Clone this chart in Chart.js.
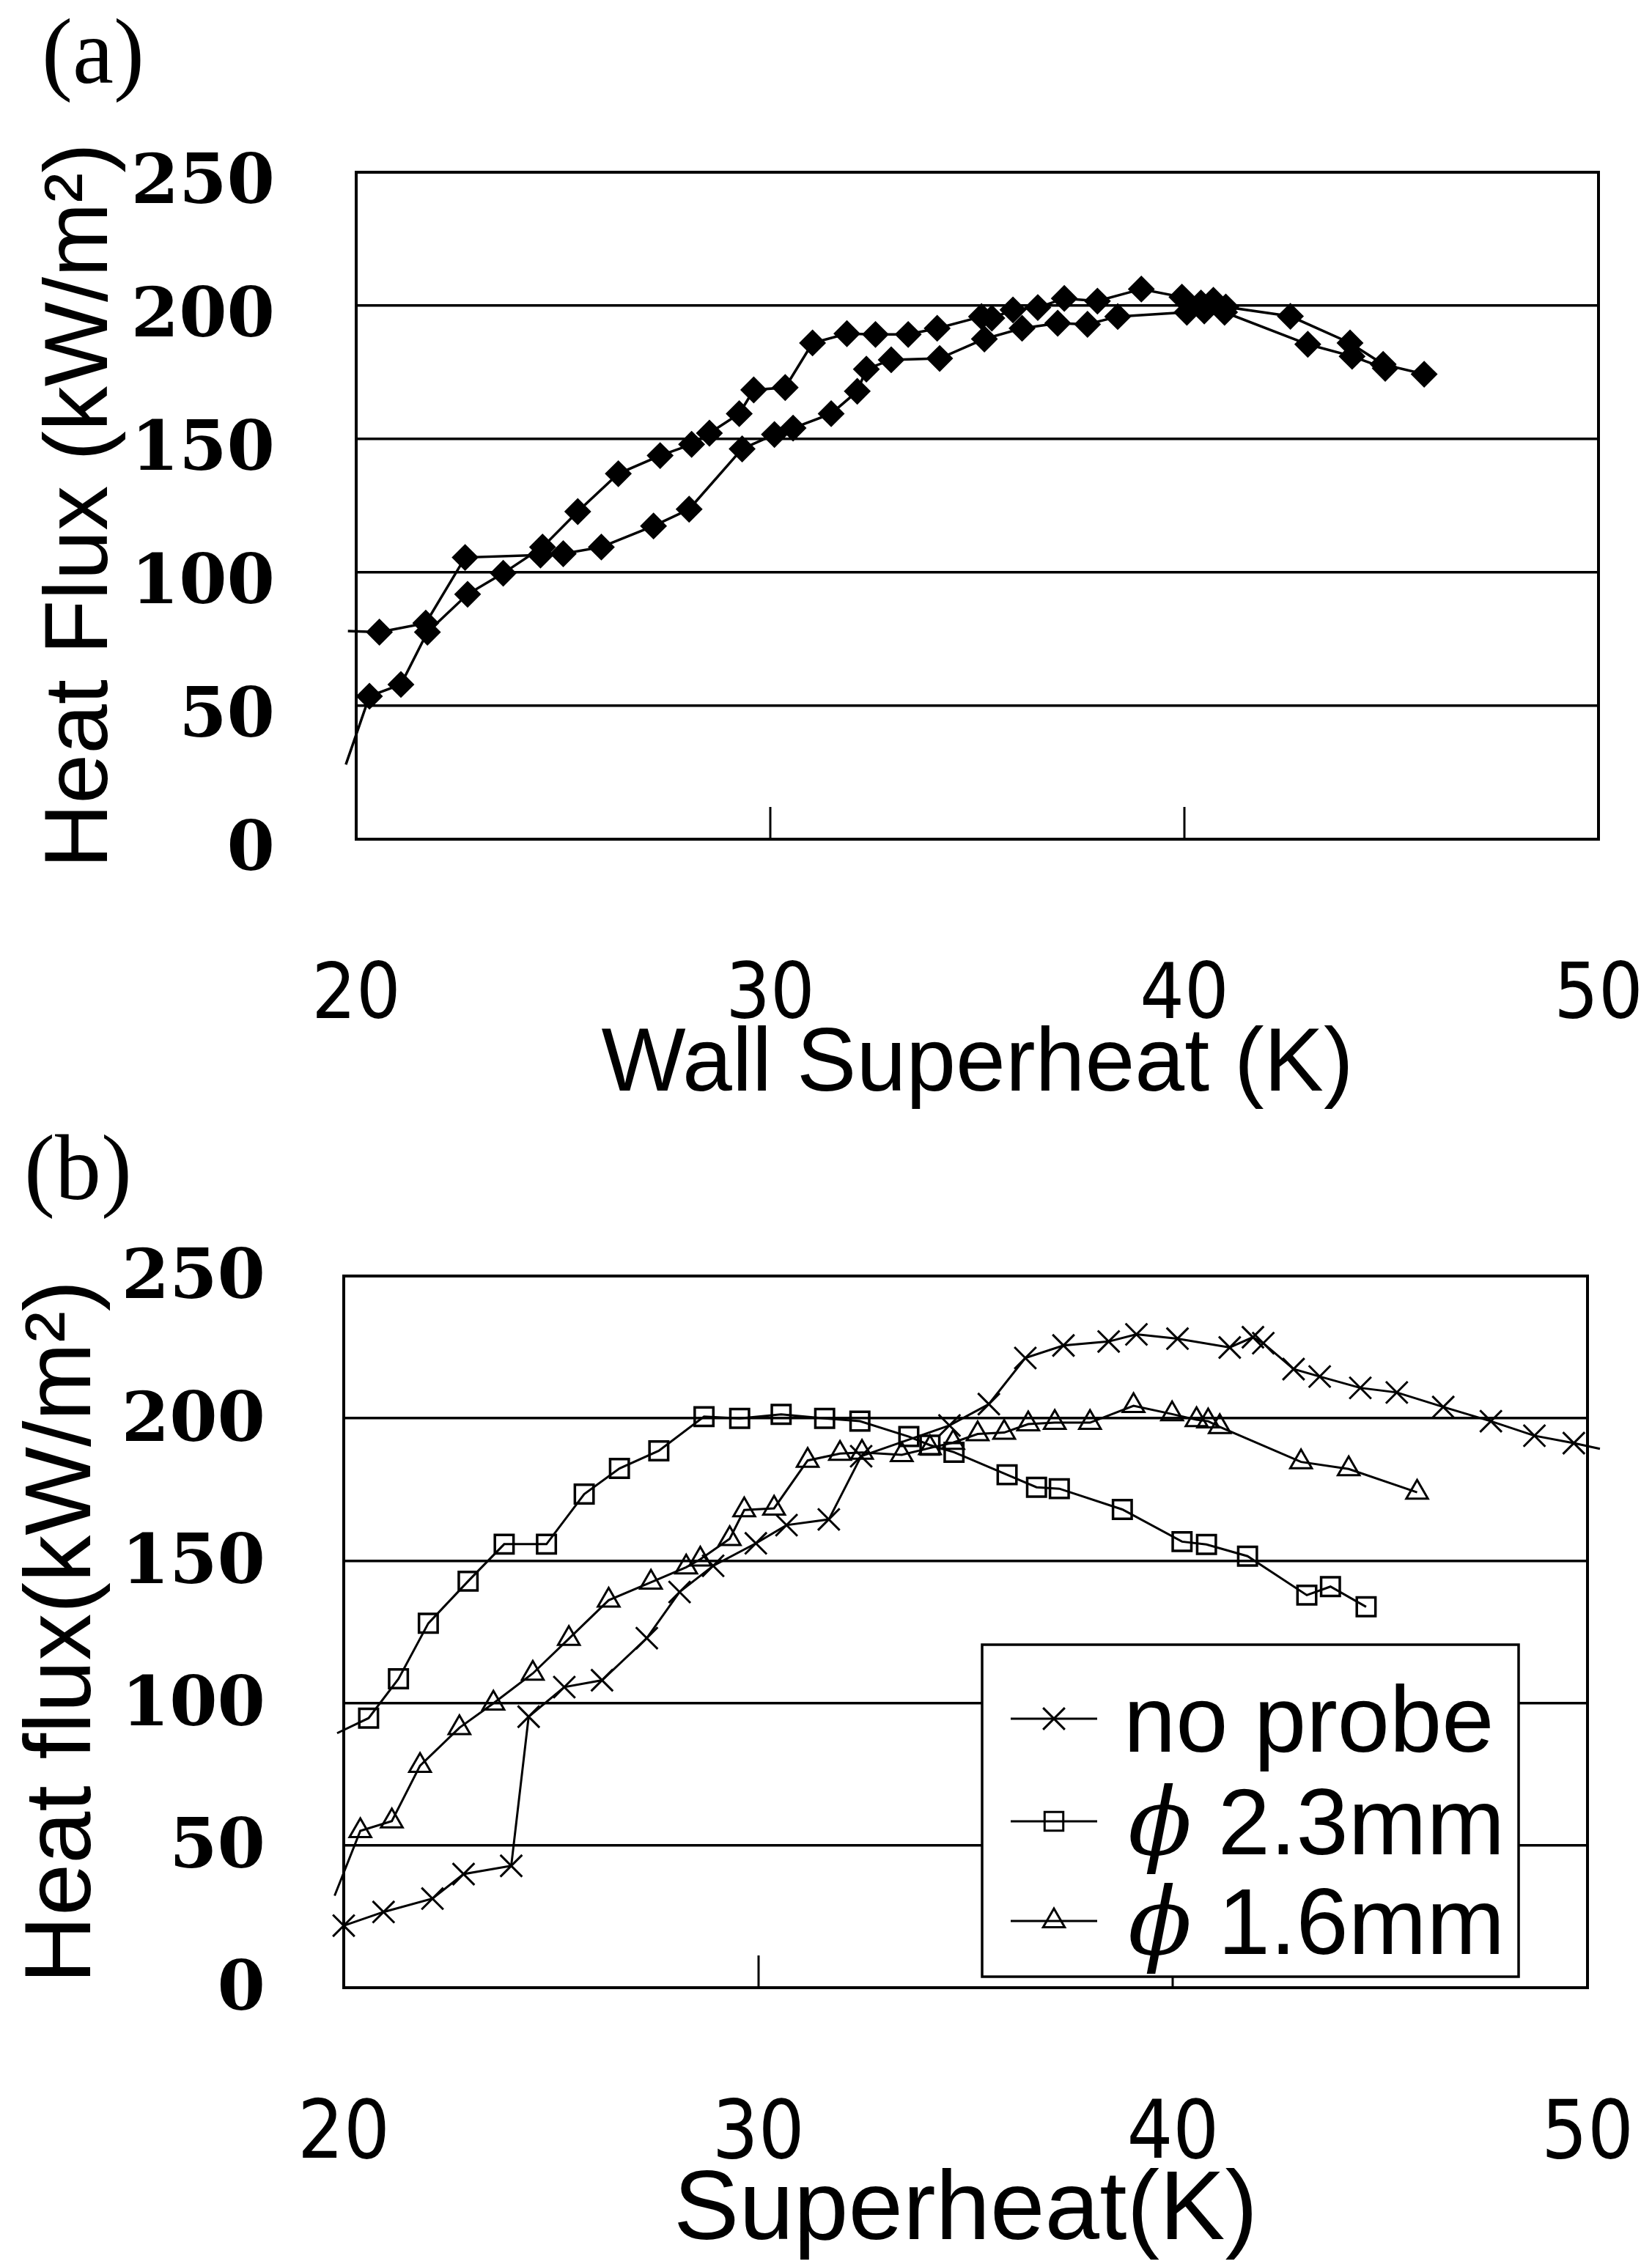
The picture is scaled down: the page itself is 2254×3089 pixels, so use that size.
<!DOCTYPE html>
<html>
<head>
<meta charset="utf-8">
<script src="https://cdn.jsdelivr.net/npm/chart.js@4/dist/chart.umd.min.js"></script>
<style>
  html, body { margin: 0; padding: 0; background: #fff; }
  canvas { position: absolute; left: 0; display: block; }
  #panelA { top: 0; }
  #panelB { top: 1530px; }
</style>
</head>
<body>
<canvas id="panelA" width="2254" height="1530"></canvas>
<canvas id="panelB" width="2254" height="1559"></canvas>
<script>
// Boiling curves: heat flux (kW/m²) against wall superheat (K)
const xTickValues = [20, 30, 40, 50];
const yTickValues = [0, 50, 100, 150, 200, 250];

// (a) two runs on the plain surface
const runOneSuperheat = [19.8, 20.56, 21.68, 22.63, 24.45, 25.0, 25.92, 27.18, 28.04, 29.32,
  30.1, 30.55, 31.47, 32.1, 32.32, 32.92, 34.09, 35.17, 36.08, 36.94,
  37.66, 38.39, 40.06, 40.48, 40.97, 42.98, 44.05, 44.85];
const runOneFlux = [78, 77.6, 81, 105.6, 106.5, 107, 109.5, 117.4, 123.7, 146.3,
  151.7, 154.1, 159.5, 167.9, 176.2, 179.7, 180.2, 187.5, 191.5, 193.4,
  193, 195.9, 197.5, 198, 197.5, 185.5, 181, 176.5];
const runTwoSuperheat = [19.75, 20.32, 21.08, 21.72, 22.69, 23.55, 24.5, 25.35, 26.33, 27.34,
  28.1, 28.53, 29.25, 29.6, 30.36, 31.02, 31.85, 32.54, 33.33, 34.03,
  35.1, 35.35, 35.86, 36.46, 37.1, 37.9, 38.96, 39.94, 40.4, 40.7,
  41.0, 42.56, 44.0, 44.8, 45.79];
const runTwoFlux = [28, 53.6, 58, 77.6, 91.8, 99.7, 109.5, 122.8, 137, 143.8,
  148, 152.2, 159.5, 168.4, 169.3, 186, 189.5, 189.2, 189.2, 191.5,
  195.9, 195.3, 198.4, 199.3, 202.7, 201.7, 206.2, 203.2, 201, 202,
  199.5, 196, 186, 178, 174.3];

// (b) without a probe and with probes of two diameters
const seriesNames = ['no probe', 'ϕ 2.3mm', 'ϕ 1.6mm'];
const noProbeSuperheat = [20.0, 20.96, 22.14, 22.89, 24.04, 24.46, 25.32, 26.23, 27.31, 28.1,
  28.91, 29.94, 30.68, 31.7, 32.48, 34.61, 35.56, 36.44, 37.36, 38.45,
  39.12, 40.11, 41.37, 41.93, 42.18, 42.91, 43.54, 44.52, 45.4, 46.52,
  47.67, 48.72, 49.67, 50.3];
const noProbeFlux = [21.8, 26.6, 31.3, 39.9, 42.8, 95.2, 105.6, 108, 122.8, 139,
  148.2, 156.1, 162.5, 164.5, 186.7, 197.5, 205, 221.2, 225.6, 227,
  229.5, 228, 224.9, 228.5, 226.4, 217.3, 214.7, 210.7, 209.1, 204,
  199, 193.9, 191.3, 189.3];
const probe23Superheat = [19.84, 20.6, 21.32, 22.04, 23.0, 23.87, 24.89, 25.8, 26.65, 27.6,
  28.69, 29.55, 30.55, 31.6, 32.45, 33.63, 34.14, 34.72, 36.0, 36.71,
  37.26, 38.78, 40.22, 40.81, 41.8, 43.23, 43.8, 44.66];
const probe23Flux = [89.4, 94.7, 108.5, 128, 142.8, 155.8, 155.8, 173.4, 182.4, 188.6,
  200.6, 200, 201.4, 200, 199, 193.6, 190.6, 188.1, 180.2, 175.8,
  175.3, 168, 156.7, 155.7, 151.6, 137.9, 140.9, 133.8];
const probe16Superheat = [19.78, 20.4, 21.16, 21.84, 22.79, 23.61, 24.56, 25.43, 26.39, 27.41,
  28.26, 28.6, 29.31, 29.66, 30.38, 31.19, 31.97, 32.5, 33.46, 34.14,
  34.7, 35.29, 35.93, 36.51, 37.15, 38.0, 39.05, 39.98, 40.57, 40.85,
  41.13, 43.09, 44.24, 45.89];
const probe16Flux = [32.3, 55.1, 58.5, 78, 91.3, 99.9, 110.4, 122.6, 136.1, 142.4,
  147.7, 150.5, 157.7, 167.8, 168.4, 185.2, 187.6, 188, 187.2, 189.6,
  191.5, 194.5, 195, 198, 198.5, 198.5, 204.4, 201.5, 199.5, 199,
  197, 184.7, 182.2, 174];

const X_MIN = 20, X_MAX = 50;
const toPoints = (xs, ys) => xs.map((x, i) => ({ x, y: ys[i] }));
// markers are hidden where a run starts or ends just outside the axis range
const markerSize = r => c => (c.raw && c.raw.x >= X_MIN && c.raw.x <= X_MAX) ? r : 0;

const SANS = '"Liberation Sans Narrow", "DejaVu Sans Condensed", "Liberation Sans", Arial, sans-serif';
const SANS_WIDE = '"Liberation Sans", Arial, sans-serif';
const SERIF_BOLD = { family: '"DejaVu Serif", "Liberation Serif", serif', weight: 'bold', size: 94, lineHeight: 1 };

// Frame around the plot area plus the short inward ticks on the x axis
const plotFrame = {
  id: 'plotFrame',
  beforeDatasetsDraw(chart) {
    const { ctx, chartArea: a, scales: { x } } = chart;
    ctx.save();
    ctx.strokeStyle = '#000';
    ctx.lineWidth = 3;
    x.ticks.forEach(t => {
      if (t.value > x.min && t.value < x.max) {
        const px = Math.round(x.getPixelForValue(t.value));
        ctx.beginPath();
        ctx.moveTo(px, a.bottom);
        ctx.lineTo(px, a.bottom - 44);
        ctx.stroke();
      }
    });
    ctx.lineWidth = 4;
    ctx.strokeRect(a.left, a.top, a.right - a.left, a.bottom - a.top);
    ctx.restore();
  }
};

// Panel letter in the top-left corner
const panelTag = {
  id: 'panelTag',
  afterDraw(chart, args, opts) {
    const { ctx } = chart;
    ctx.save();
    ctx.fillStyle = '#000';
    ctx.font = opts.size + 'px "Liberation Serif", "DejaVu Serif", serif';
    ctx.textBaseline = 'middle';
    ctx.textAlign = 'left';
    ctx.fillText(opts.text, opts.x, opts.y);
    ctx.restore();
  }
};

// Boxed legend inside the lower-right part of panel (b)
const boxLegend = {
  id: 'boxLegend',
  afterDatasetsDraw(chart, args, opts) {
    const { ctx } = chart;
    ctx.save();
    ctx.fillStyle = '#fff';
    ctx.fillRect(opts.left, opts.top, opts.right - opts.left, opts.bottom - opts.top);
    ctx.strokeStyle = '#000';
    ctx.lineWidth = 3.5;
    ctx.strokeRect(opts.left, opts.top, opts.right - opts.left, opts.bottom - opts.top);
    chart.data.datasets.forEach((ds, i) => {
      const y = opts.rows[i];
      ctx.strokeStyle = ds.borderColor;
      ctx.lineWidth = ds.borderWidth;
      ctx.beginPath();
      ctx.moveTo(opts.sampleFrom, y);
      ctx.lineTo(opts.sampleTo, y);
      ctx.stroke();
      ctx.fillStyle = ds.pointBackgroundColor;
      ctx.strokeStyle = ds.pointBorderColor;
      Chart.helpers.drawPoint(ctx, {
        pointStyle: ds.pointStyle, rotation: 0,
        radius: ds.legendMarker, borderWidth: ds.pointBorderWidth
      }, (opts.sampleFrom + opts.sampleTo) / 2, y);
      ctx.fillStyle = '#000';
      ctx.textBaseline = 'alphabetic';
      ctx.textAlign = 'left';
      const baseline = y + opts.baselineShift;
      let x = opts.textX;
      let text = ds.label;
      // the diameter sign is set in a slanted serif face
      if (text.startsWith('ϕ')) {
        ctx.font = 'italic ' + opts.fontSize + 'px "DejaVu Serif", "Liberation Serif", serif';
        ctx.fillText('ϕ', x + 6, baseline);
        x += 6 + ctx.measureText('ϕ').width;
        text = text.slice(1);
      }
      ctx.font = opts.fontSize + 'px ' + SANS_WIDE;
      ctx.fillText(text, x, baseline);
    });
    ctx.restore();
  }
};

function panelOptions(g) {
  return {
    responsive: false,
    animation: false,
    devicePixelRatio: 1,
    events: [],
    layout: { padding: { top: g.top, right: g.rightPad, left: 0, bottom: 0 } },
    plugins: {
      legend: { display: false },
      tooltip: { enabled: false },
      panelTag: g.tag,
      boxLegend: g.legend || {}
    },
    scales: {
      x: {
        type: 'linear', min: X_MIN, max: X_MAX,
        afterBuildTicks: s => { s.ticks = xTickValues.map(v => ({ value: v })); },
        afterFit: s => { s.height = g.xAxisHeight; s.paddingLeft = 0; s.paddingRight = 0; },
        grid: { display: false },
        border: { display: false },
        ticks: {
          padding: g.xTickPad, color: '#000', maxRotation: 0, autoSkip: false,
          font: { family: SANS, size: g.xTickSize, lineHeight: 1 }
        },
        title: {
          display: true, text: g.xTitle, color: '#000',
          font: { family: SANS_WIDE, size: g.xTitleSize, lineHeight: 1 },
          padding: { top: 0, bottom: g.xTitlePad }
        }
      },
      y: {
        type: 'linear', min: 0, max: 250,
        afterBuildTicks: s => { s.ticks = yTickValues.map(v => ({ value: v })); },
        afterFit: s => { s.width = g.yAxisWidth; s.paddingTop = 0; s.paddingBottom = 0; },
        grid: { color: '#000', lineWidth: 3.5, drawTicks: false },
        border: { display: false },
        ticks: {
          padding: g.yTickPad, color: '#000', autoSkip: false,
          labelOffset: g.yLabelOffset, font: SERIF_BOLD
        },
        title: {
          display: true, text: g.yTitle, color: '#000',
          font: { family: SANS_WIDE, size: g.yTitleSize, lineHeight: 1 },
          padding: { top: g.yTitlePad, bottom: 0 }
        }
      }
    }
  };
}

const lineBase = {
  showLine: true, tension: 0, borderColor: '#000', borderWidth: 3,
  pointBorderColor: '#000', clip: { left: 20, top: 0, right: 24, bottom: 0 }
};

const diamond = {
  ...lineBase, borderWidth: 3.5, pointStyle: 'rectRot', pointRadius: markerSize(17),
  pointBackgroundColor: '#000', pointBorderWidth: 2
};

new Chart(document.getElementById('panelA'), {
  type: 'line',
  data: {
    datasets: [
      { ...diamond, label: 'run 1', data: toPoints(runOneSuperheat, runOneFlux) },
      { ...diamond, label: 'run 2', data: toPoints(runTwoSuperheat, runTwoFlux) }
    ]
  },
  options: panelOptions({
    top: 235, rightPad: 73, yAxisWidth: 486, xAxisHeight: 385,
    xTickPad: 155, xTickSize: 106, xTitle: 'Wall Superheat (K)', xTitleSize: 122, xTitlePad: 15,
    yTickPad: 111, yLabelOffset: 18, yTitle: 'Heat Flux (kW/m²)', yTitleSize: 122, yTitlePad: 51,
    tag: { text: '(a)', x: 57, y: 80, size: 126 }
  }),
  plugins: [plotFrame, panelTag]
});

new Chart(document.getElementById('panelB'), {
  type: 'line',
  data: {
    datasets: [
      { ...lineBase, label: seriesNames[0], data: toPoints(noProbeSuperheat, noProbeFlux),
        pointStyle: 'crossRot', pointRadius: markerSize(21), legendMarker: 21,
        pointBackgroundColor: 'rgba(0,0,0,0)', pointBorderWidth: 3 },
      { ...lineBase, label: seriesNames[1], data: toPoints(probe23Superheat, probe23Flux),
        pointStyle: 'rect', pointRadius: markerSize(18), legendMarker: 18,
        pointBackgroundColor: 'rgba(0,0,0,0)', pointBorderWidth: 3.5 },
      { ...lineBase, label: seriesNames[2], data: toPoints(probe16Superheat, probe16Flux),
        pointStyle: 'triangle', pointRadius: markerSize(17), legendMarker: 17,
        pointBackgroundColor: 'rgba(0,0,0,0)', pointBorderWidth: 3 }
    ]
  },
  options: panelOptions({
    top: 211, rightPad: 88, yAxisWidth: 469, xAxisHeight: 377,
    xTickPad: 140, xTickSize: 110, xTitle: 'Superheat(K)', xTitleSize: 134, xTitlePad: 4,
    yTickPad: 107, yLabelOffset: 6, yTitle: 'Heat flux(kW/m²)', yTitleSize: 128, yTitlePad: 24,
    tag: { text: '(b)', x: 33, y: 73, size: 126 },
    legend: {
      left: 1340, top: 714, right: 2072, bottom: 1167,
      rows: [815, 955, 1091], sampleFrom: 1379, sampleTo: 1497,
      textX: 1533, fontSize: 128, baselineShift: 45
    }
  }),
  plugins: [plotFrame, panelTag, boxLegend]
});
</script>
</body>
</html>
